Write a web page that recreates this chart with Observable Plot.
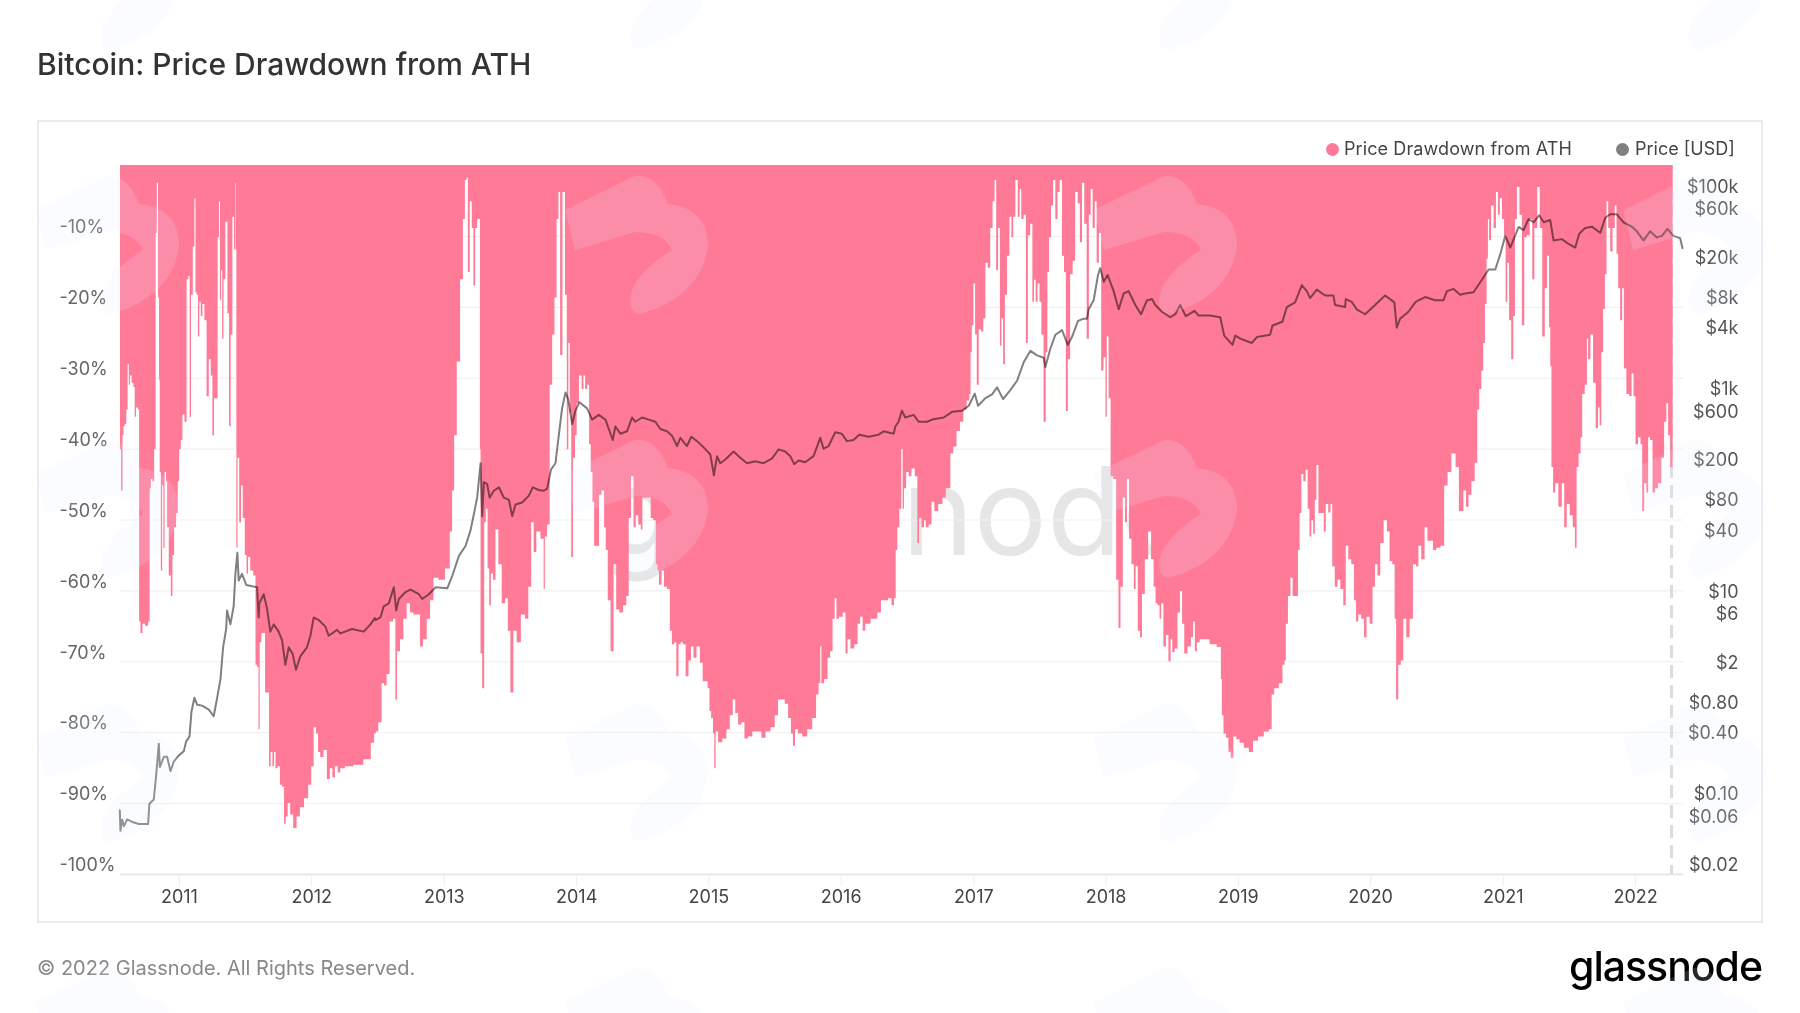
<!DOCTYPE html>
<html><head><meta charset="utf-8">
<script src="https://cdn.jsdelivr.net/npm/d3@7"></script>
<script src="https://cdn.jsdelivr.net/npm/@observablehq/plot@0.6"></script>
<style>
html,body{margin:0;padding:0;background:#fff;width:1800px;height:1013px;overflow:hidden;font-family:Inter,sans-serif}
.abs{position:absolute;white-space:nowrap}
#frame{left:37px;top:120px;width:1722px;height:799px;border:2px solid #ebebeb}
#title{left:37px;top:46px;font-size:30px;line-height:36px;color:#333;font-weight:500}
#foot{left:37px;top:955px;font-size:20px;line-height:26px;color:#888}
#logo{left:1569px;top:941px;font-size:41px;line-height:50px;font-weight:500;color:#000;letter-spacing:-1px}
#bigmark{left:600px;top:436px;font-size:122px;line-height:150px;color:#e6e6e6}
.leg{font-size:18px;line-height:24px;color:#444;top:137px}
.dot{width:13px;height:13px;border-radius:50%;top:143px}
#chart{position:absolute;left:0;top:0}
#mark{position:absolute;left:0;top:0;pointer-events:none}
</style></head><body>
<div class="abs" id="bigmark">glassnode</div>
<div class="abs" id="frame"></div>
<div id="chart"></div>
<div class="abs" id="title">Bitcoin: Price Drawdown from ATH</div>
<div class="abs dot" style="left:1326px;background:#ff7a96"></div>
<div class="abs leg" style="left:1344px;letter-spacing:.1px">Price Drawdown from ATH</div>
<div class="abs dot" style="left:1616px;background:#808080"></div>
<div class="abs leg" style="left:1635px">Price [USD]</div>
<div class="abs" id="foot">© 2022 Glassnode. All Rights Reserved.</div>
<div class="abs" id="logo">glassnode</div>
<svg id="mark" width="1800" height="1013"><defs>
<pattern id="tile" patternUnits="userSpaceOnUse" x="36" y="172" width="529" height="264">
<path d="M0,38 L70,4 Q92,2 103,32 Q143,36 143,75 Q135,125 75,142 Q62,140 66,122 Q72,100 107,78 Q100,60 70,60 L10,78 Z" fill="rgb(232,238,250)" fill-opacity=".17"/>
</pattern></defs><rect width="1800" height="1013" fill="url(#tile)"/></svg>
<script>
const pctTicks = [-10,-20,-30,-40,-50,-60,-70,-80,-90,-100];
const yearTicks = [2011,2012,2013,2014,2015,2016,2017,2018,2019,2020,2021,2022];
const priceTicks = [100000,60000,20000,8000,4000,1000,600,200,80,40,10,6,2,0.8,0.4,0.1,0.06,0.02];
const priceLabels = ["$100k","$60k","$20k","$8k","$4k","$1k","$600","$200","$80","$40","$10","$6","$2","$0.80","$0.40","$0.10","$0.06","$0.02"];
const xDomainYears = [2010.5544,2022.3625];
const priceDomain = [0.02,200000];
const lastDayMark = [2022.272];

// [decimal year, drawdown from ATH %]
const drawdown2010 = [[2010.554,-40.1],[2010.570,-45.9],[2010.577,-38.1],[2010.585,-36.8],[2010.597,-36.5],[2010.607,-34.5],[2010.617,-28.1],[2010.625,-31.0],[2010.635,-29.7],[2010.648,-30.7],[2010.663,-31.3],[2010.668,-35.5],[2010.683,-34.2],[2010.698,-34.5],[2010.700,-64.4],[2010.718,-66.0],[2010.731,-64.7],[2010.758,-65.0],[2010.776,-64.4],[2010.781,-45.6],[2010.794,-44.3],[2010.806,-44.6],[2010.819,-40.1],[2010.829,-9.6],[2010.836,-2.5],[2010.847,-18.7],[2010.852,-30.3],[2010.857,-43.3],[2010.869,-57.2],[2010.877,-45.2],[2010.887,-54.0],[2010.897,-43.3],[2010.907,-44.6],[2010.914,-51.1],[2010.932,-57.9],[2010.945,-60.8],[2010.957,-55.0],[2010.970,-51.1],[2010.987,-49.1],[2010.995,-44.6]];
const drawdown2011 = [[2011.008,-40.1],[2011.020,-38.8],[2011.033,-35.2],[2011.050,-36.2],[2011.066,-16.1],[2011.076,-15.7],[2011.086,-35.5],[2011.096,-18.3],[2011.113,-11.5],[2011.121,-4.7],[2011.129,-18.0],[2011.139,-18.3],[2011.149,-24.2],[2011.159,-19.3],[2011.171,-21.3],[2011.184,-19.6],[2011.201,-21.9],[2011.217,-32.6],[2011.234,-27.4],[2011.247,-29.7],[2011.259,-38.1],[2011.272,-32.9],[2011.285,-32.9],[2011.300,-10.2],[2011.305,-5.1],[2011.315,-19.0],[2011.322,-14.8],[2011.332,-24.5],[2011.342,-16.1],[2011.360,-8.0],[2011.373,-20.9],[2011.385,-36.8],[2011.398,-23.9],[2011.410,-7.3],[2011.423,-11.9],[2011.426,-2.5],[2011.430,-12],[2011.438,-54.0],[2011.448,-41.3],[2011.463,-50.4],[2011.476,-45.2],[2011.489,-49.8],[2011.506,-55.0],[2011.516,-57.6],[2011.529,-55.3],[2011.549,-57.2],[2011.574,-57.9],[2011.584,-70.5],[2011.599,-70.8],[2011.604,-79.6],[2011.617,-67.3],[2011.630,-66.0],[2011.647,-66.0],[2011.655,-74.4],[2011.675,-74.4],[2011.687,-84.8],[2011.700,-82.8],[2011.713,-84.8],[2011.725,-82.8],[2011.735,-85.1],[2011.755,-84.8],[2011.771,-87.4],[2011.788,-87.7],[2011.801,-92.9],[2011.813,-91.9],[2011.831,-90.0],[2011.851,-91.6],[2011.876,-93.5],[2011.902,-91.9],[2011.927,-90.6],[2011.964,-89.3],[2011.990,-87.4]];
const drawdown2012 = [[2012.010,-84.8],[2012.027,-79.3],[2012.045,-80.2],[2012.058,-82.8],[2012.078,-83.5],[2012.108,-82.5],[2012.128,-86.6],[2012.153,-85.1],[2012.166,-86.4],[2012.191,-84.8],[2012.209,-85.7],[2012.229,-85.1],[2012.279,-84.8],[2012.355,-84.6],[2012.430,-83.8],[2012.468,-81.5],[2012.480,-80.2],[2012.493,-79.9],[2012.518,-78.6],[2012.543,-73.1],[2012.556,-73.4],[2012.581,-71.8],[2012.601,-64.4],[2012.632,-64.0],[2012.637,-75.4],[2012.657,-68.6],[2012.682,-66.9],[2012.707,-64.0],[2012.732,-61.8],[2012.757,-63.1],[2012.783,-63.4],[2012.815,-63.4],[2012.825,-67.9],[2012.858,-66.9],[2012.883,-64.0],[2012.909,-61.4],[2012.934,-58.2],[2012.984,-58.5]];
const drawdown2013 = [[2013.034,-56.9],[2013.055,-51.7],[2013.070,-45.9],[2013.085,-38.1],[2013.110,-27.7],[2013.135,-16.1],[2013.153,-7.6],[2013.165,-2.1],[2013.178,-1.8],[2013.185,-15.1],[2013.206,-5.1],[2013.216,-8.9],[2013.231,-17.0],[2013.243,-8.9],[2013.261,-7.6],[2013.271,-7.6],[2013.274,-40.1],[2013.281,-68.9],[2013.299,-73.8],[2013.311,-50.4],[2013.324,-48.5],[2013.337,-56.9],[2013.349,-62.1],[2013.362,-57.6],[2013.382,-58.5],[2013.399,-51.4],[2013.425,-56.3],[2013.450,-61.8],[2013.475,-61.1],[2013.493,-65.7],[2013.513,-74.4],[2013.538,-65.7],[2013.563,-67.3],[2013.601,-63.4],[2013.626,-64.0],[2013.651,-59.5],[2013.669,-50.4],[2013.689,-54.6],[2013.709,-51.7],[2013.752,-52.7],[2013.757,-59.8],[2013.770,-52.4],[2013.790,-50.7],[2013.810,-31.0],[2013.828,-23.9],[2013.845,-18.7],[2013.860,-7.6],[2013.873,-3.8],[2013.885,-26.8],[2013.908,-3.8],[2013.923,-18.3],[2013.936,-40.1],[2013.946,-25.1],[2013.958,-34.9],[2013.968,-55.3],[2013.984,-41.3],[2013.999,-38.1]];
const drawdown2014 = [[2014.009,-33.6],[2014.034,-29.7],[2014.049,-31.6],[2014.062,-29.7],[2014.074,-31.6],[2014.092,-31.0],[2014.104,-39.4],[2014.117,-43.3],[2014.130,-47.5],[2014.142,-53.7],[2014.167,-53.7],[2014.180,-46.5],[2014.205,-45.9],[2014.218,-51.1],[2014.230,-54.3],[2014.248,-61.4],[2014.273,-68.6],[2014.293,-56.3],[2014.313,-62.7],[2014.339,-63.1],[2014.369,-62.1],[2014.389,-60.8],[2014.406,-49.8],[2014.424,-43.9],[2014.444,-51.1],[2014.457,-49.4],[2014.482,-50.7],[2014.495,-51.4],[2014.507,-46.9],[2014.557,-46.9],[2014.570,-49.8],[2014.595,-50.1],[2014.610,-56.3],[2014.620,-57.2],[2014.633,-59.2],[2014.658,-57.2],[2014.671,-59.5],[2014.703,-59.8],[2014.714,-65.7],[2014.734,-67.6],[2014.751,-67.3],[2014.764,-72.1],[2014.784,-67.6],[2014.797,-67.3],[2014.817,-67.6],[2014.839,-72.1],[2014.860,-69.9],[2014.877,-67.9],[2014.897,-69.5],[2014.923,-67.9],[2014.948,-70.2],[2014.965,-72.8],[2014.985,-72.8]];
const drawdown2015 = [[2015.003,-73.8],[2015.013,-77.0],[2015.028,-78.0],[2015.041,-80.2],[2015.048,-85.1],[2015.061,-79.9],[2015.086,-81.4],[2015.124,-80.9],[2015.149,-79.6],[2015.174,-77.6],[2015.194,-75.4],[2015.212,-77.3],[2015.237,-78.9],[2015.262,-78.6],[2015.283,-80.9],[2015.313,-80.6],[2015.351,-79.9],[2015.388,-79.9],[2015.413,-80.8],[2015.451,-79.9],[2015.489,-79.3],[2015.514,-77.6],[2015.539,-75.4],[2015.565,-75.4],[2015.590,-76.0],[2015.615,-78.0],[2015.633,-80.2],[2015.645,-81.9],[2015.665,-79.6],[2015.690,-80.2],[2015.728,-80.6],[2015.766,-79.6],[2015.804,-78.0],[2015.824,-74.7],[2015.842,-73.1],[2015.849,-67.9],[2015.859,-73.1],[2015.892,-72.5],[2015.910,-69.5],[2015.930,-68.6],[2015.947,-64.0],[2015.962,-61.1],[2015.975,-64.0]];
const drawdown2016 = [[2016.000,-63.7],[2016.030,-63.1],[2016.043,-68.9],[2016.061,-66.9],[2016.086,-68.2],[2016.119,-67.6],[2016.136,-64.7],[2016.156,-63.7],[2016.176,-65.7],[2016.194,-64.7],[2016.257,-64.0],[2016.295,-63.1],[2016.312,-61.4],[2016.345,-61.4],[2016.370,-61.1],[2016.396,-62.1],[2016.408,-61.1],[2016.421,-54.3],[2016.433,-51.1],[2016.451,-48.5],[2016.463,-40.1],[2016.471,-48.5],[2016.483,-45.6],[2016.504,-43.3],[2016.521,-43.9],[2016.546,-42.8],[2016.572,-43.9],[2016.584,-53.3],[2016.597,-49.8],[2016.622,-51.1],[2016.635,-50.1],[2016.647,-51.1],[2016.680,-50.7],[2016.690,-47.5],[2016.723,-48.8],[2016.748,-47.8],[2016.786,-46.9],[2016.798,-45.6],[2016.818,-45.6],[2016.836,-40.7],[2016.861,-39.7],[2016.886,-37.5],[2016.912,-36.2],[2016.937,-34.5],[2016.962,-33.2],[2016.977,-32.3],[2016.982,-26.4],[2016.995,-22.6]];
const drawdown2017 = [[2017.007,-16.7],[2017.020,-23.9],[2017.032,-31.0],[2017.050,-23.2],[2017.068,-23.5],[2017.083,-21.6],[2017.100,-13.8],[2017.118,-14.5],[2017.138,-8.9],[2017.153,-5.1],[2017.168,-2.1],[2017.178,-14.8],[2017.196,-8.9],[2017.206,-25.5],[2017.219,-21.6],[2017.231,-28.1],[2017.246,-18.3],[2017.264,-12.8],[2017.282,-7.3],[2017.294,-10.2],[2017.309,-7.3],[2017.327,-2.1],[2017.345,-7.3],[2017.355,-3.4],[2017.370,-7.6],[2017.390,-7.0],[2017.405,-25.1],[2017.420,-9.9],[2017.440,-8.3],[2017.453,-19.3],[2017.465,-16.2],[2017.478,-19.3],[2017.493,-16.7],[2017.508,-19.3],[2017.521,-23.9],[2017.541,-36.2],[2017.554,-26.4],[2017.566,-15.1],[2017.579,-10.2],[2017.596,-5.7],[2017.611,-2.1],[2017.629,-7.6],[2017.644,-3.8],[2017.662,-2.1],[2017.679,-12.8],[2017.692,-15.1],[2017.707,-34.7],[2017.722,-27.4],[2017.742,-15.4],[2017.760,-13.5],[2017.780,-3.8],[2017.798,-5.4],[2017.813,-10.9],[2017.830,-2.5],[2017.848,-8.3],[2017.866,-24.5],[2017.881,-7.0],[2017.893,-3.4],[2017.911,-8.9],[2017.926,-5.1],[2017.939,-13.8],[2017.959,-9.6],[2017.974,-29.0],[2017.994,-27.1]];
const drawdown2018 = [[2018.004,-35.5],[2018.014,-24.2],[2018.032,-32.9],[2018.044,-43.9],[2018.070,-44.3],[2018.090,-58.5],[2018.105,-65.3],[2018.120,-59.5],[2018.140,-46.9],[2018.153,-50.4],[2018.170,-44.3],[2018.185,-52.7],[2018.206,-56.3],[2018.221,-59.8],[2018.233,-56.6],[2018.253,-65.7],[2018.266,-66.6],[2018.284,-60.5],[2018.309,-55.6],[2018.334,-51.7],[2018.354,-55.6],[2018.372,-59.5],[2018.384,-61.8],[2018.402,-62.1],[2018.414,-64.0],[2018.427,-61.8],[2018.447,-67.9],[2018.465,-66.3],[2018.485,-70.0],[2018.498,-66.9],[2018.510,-68.7],[2018.535,-68.2],[2018.553,-63.1],[2018.571,-60.1],[2018.586,-64.7],[2018.603,-68.9],[2018.636,-67.9],[2018.654,-66.6],[2018.669,-64.4],[2018.681,-68.6],[2018.699,-67.3],[2018.724,-66.9],[2018.762,-66.9],[2018.812,-67.6],[2018.868,-68.0],[2018.875,-72.5],[2018.883,-77.6],[2018.900,-80.2],[2018.921,-80.8],[2018.936,-82.8],[2018.956,-83.6],[2018.976,-80.6]];
const drawdown2019 = [[2019.001,-81.0],[2019.026,-81.5],[2019.064,-82.2],[2019.102,-82.8],[2019.127,-81.2],[2019.177,-80.6],[2019.215,-79.9],[2019.253,-79.6],[2019.258,-74.7],[2019.291,-73.8],[2019.328,-73.1],[2019.346,-70.5],[2019.359,-69.9],[2019.366,-64.7],[2019.391,-60.8],[2019.404,-58.2],[2019.424,-60.8],[2019.449,-60.8],[2019.459,-54.3],[2019.475,-49.1],[2019.485,-43.6],[2019.505,-44.6],[2019.520,-43.0],[2019.535,-48.5],[2019.548,-52.4],[2019.563,-50.1],[2019.575,-52.0],[2019.588,-47.2],[2019.600,-42.3],[2019.618,-49.1],[2019.643,-49.1],[2019.656,-51.7],[2019.673,-47.8],[2019.694,-49.0],[2019.706,-47.8],[2019.721,-56.6],[2019.744,-59.5],[2019.762,-58.5],[2019.787,-59.8],[2019.807,-62.1],[2019.824,-53.7],[2019.845,-55.6],[2019.870,-56.3],[2019.887,-61.4],[2019.900,-64.4],[2019.920,-63.4],[2019.945,-64.0],[2019.963,-66.6],[2019.983,-63.7]];
const drawdown2020 = [[2020.008,-64.7],[2020.028,-59.5],[2020.046,-56.3],[2020.064,-57.9],[2020.089,-53.3],[2020.114,-50.1],[2020.139,-51.7],[2020.154,-55.9],[2020.179,-56.3],[2020.190,-64.0],[2020.202,-75.4],[2020.222,-70.5],[2020.240,-69.9],[2020.260,-64.0],[2020.285,-66.6],[2020.310,-64.0],[2020.335,-56.3],[2020.355,-56.6],[2020.373,-53.7],[2020.398,-55.6],[2020.423,-51.1],[2020.441,-53.0],[2020.461,-53.0],[2020.486,-54.3],[2020.512,-54.0],[2020.549,-53.7],[2020.567,-45.2],[2020.600,-43.3],[2020.625,-40.7],[2020.663,-42.6],[2020.675,-48.8],[2020.693,-48.8],[2020.713,-45.9],[2020.733,-48.2],[2020.751,-46.5],[2020.776,-44.6],[2020.801,-42.0],[2020.814,-34.5],[2020.831,-31.6],[2020.846,-29.0],[2020.859,-25.1],[2020.872,-19.6],[2020.884,-13.2],[2020.892,-7.6],[2020.902,-10.6],[2020.922,-5.7],[2020.940,-8.9],[2020.957,-3.8],[2020.970,-7.0],[2020.985,-4.7]];
const drawdown2021 = [[2021.003,-7.6],[2021.015,-9.9],[2021.028,-19.3],[2021.040,-13.8],[2021.055,-21.9],[2021.073,-27.4],[2021.086,-21.3],[2021.098,-7.6],[2021.116,-3.1],[2021.136,-7.0],[2021.154,-22.6],[2021.171,-10.2],[2021.191,-9.9],[2021.217,-7.6],[2021.229,-16.1],[2021.249,-8.9],[2021.272,-3.1],[2021.287,-8.9],[2021.310,-24.2],[2021.325,-17.4],[2021.345,-12.8],[2021.355,-22.9],[2021.363,-28.4],[2021.373,-42.6],[2021.388,-46.2],[2021.405,-44.9],[2021.436,-48.2],[2021.456,-44.9],[2021.473,-51.1],[2021.494,-47.8],[2021.519,-49.4],[2021.539,-51.1],[2021.552,-54.0],[2021.564,-42.6],[2021.582,-40.7],[2021.594,-38.4],[2021.607,-32.3],[2021.632,-31.0],[2021.640,-24.5],[2021.650,-27.4],[2021.675,-23.9],[2021.690,-30.7],[2021.715,-37.1],[2021.725,-34.2],[2021.740,-36.7],[2021.750,-26.4],[2021.766,-20.3],[2021.778,-15.4],[2021.791,-5.1],[2021.803,-8.9],[2021.821,-12.2],[2021.839,-8.9],[2021.854,-5.7],[2021.866,-12.5],[2021.879,-17.4],[2021.896,-21.9],[2021.909,-17.4],[2021.922,-28.7],[2021.947,-32.3],[2021.967,-32.6],[2021.980,-29.4],[2021.997,-32.6]];
const drawdown2022 = [[2022.010,-39.4],[2022.035,-38.4],[2022.048,-39.4],[2022.060,-48.8],[2022.078,-44.9],[2022.093,-46.2],[2022.105,-38.4],[2022.123,-38.8],[2022.141,-46.2],[2022.161,-45.6],[2022.186,-44.9],[2022.211,-41.3],[2022.229,-36.2],[2022.244,-33.6],[2022.256,-38.1],[2022.274,-42.6],[2022.284,-42.6]];

// [decimal year, price in USD]
const priceEarly = [[2010.549,0.086],[2010.554,0.054],[2010.567,0.07],[2010.580,0.06],[2010.605,0.07],[2010.643,0.066],[2010.693,0.063],[2010.763,0.063],[2010.773,0.10],[2010.806,0.11],[2010.824,0.19],[2010.844,0.39],[2010.852,0.23],[2010.882,0.29],[2010.907,0.29],[2010.932,0.21],[2010.957,0.26],[2010.995,0.30],[2011.033,0.33],[2011.050,0.41],[2011.076,0.46],[2011.091,0.81],[2011.113,1.11],[2011.134,0.95],[2011.171,0.93],[2011.222,0.85],[2011.259,0.73],[2011.285,1.11],[2011.310,1.69],[2011.330,3.5],[2011.353,5.3],[2011.360,8.1],[2011.385,5.9],[2011.410,8.9],[2011.423,18.6],[2011.438,30],[2011.448,16],[2011.473,18.6],[2011.506,14.4],[2011.549,14],[2011.587,13.7],[2011.599,6.9],[2011.604,9.5],[2011.637,11.7],[2011.662,8.5],[2011.687,5.0],[2011.713,5.9],[2011.750,5.0],[2011.776,4.1],[2011.801,2.35],[2011.826,3.5],[2011.856,3.0],[2011.881,2.1],[2011.914,2.85],[2011.964,3.5],[2011.990,4.55]];
const priceMid12 = [[2012.015,6.9],[2012.053,6.5],[2012.103,5.6],[2012.128,4.55],[2012.191,5.2],[2012.216,4.8],[2012.304,5.3],[2012.392,5.0],[2012.443,5.9],[2012.476,6.8],[2012.480,6.5],[2012.518,6.9],[2012.543,8.9],[2012.581,9.5],[2012.619,13.7],[2012.637,8.1],[2012.657,10.5],[2012.707,12.3],[2012.745,13],[2012.808,11.7],[2012.833,10.5],[2012.883,11.7],[2012.934,13.7],[2013.022,13.4],[2013.060,17.8],[2013.110,28],[2013.160,35],[2013.198,50],[2013.223,72],[2013.248,105],[2013.274,230],[2013.286,69],[2013.299,150],[2013.324,143],[2013.342,105],[2013.374,123],[2013.412,133],[2013.450,105],[2013.488,100],[2013.513,69],[2013.538,90],[2013.588,94],[2013.639,110],[2013.669,133],[2013.714,125],[2013.752,123],[2013.777,129],[2013.807,200],[2013.840,230],[2013.865,430],[2013.890,800],[2013.916,1150],[2013.936,990],[2013.966,560],[2013.991,760]];
const price2014 = [[2014.021,920],[2014.079,800],[2014.117,620],[2014.167,690],[2014.218,620],[2014.273,390],[2014.293,530],[2014.331,450],[2014.381,475],[2014.419,650],[2014.444,590],[2014.495,650],[2014.545,620],[2014.595,590],[2014.633,500],[2014.683,475],[2014.721,430],[2014.759,340],[2014.784,410],[2014.834,340],[2014.867,420],[2014.910,380],[2014.960,330],[2015.011,280],[2015.038,175],[2015.061,270],[2015.086,230],[2015.124,250],[2015.187,300],[2015.237,260],[2015.288,230],[2015.351,240],[2015.413,230],[2015.476,255],[2015.527,315],[2015.577,300],[2015.615,270],[2015.645,225],[2015.678,245],[2015.728,235],[2015.791,270],[2015.842,410],[2015.867,320],[2015.905,340],[2015.955,465]];
const price2016 = [[2016.005,450],[2016.043,380],[2016.093,390],[2016.136,440],[2016.207,420],[2016.282,440],[2016.320,475],[2016.396,450],[2016.408,530],[2016.433,590],[2016.458,760],[2016.483,650],[2016.546,690],[2016.584,590],[2016.647,590],[2016.685,620],[2016.773,650],[2016.836,740],[2016.912,760],[2016.962,850],[2017.007,1120],[2017.032,850],[2017.088,1010],[2017.138,1100],[2017.176,1290],[2017.221,990],[2017.277,1220],[2017.327,1500],[2017.377,2280],[2017.428,2960],[2017.478,2670],[2017.528,2530],[2017.541,2050],[2017.579,3120],[2017.617,4270],[2017.667,4740],[2017.710,3390],[2017.742,4050],[2017.788,5840],[2017.831,6150],[2017.856,6150],[2017.868,7600],[2017.906,9350],[2017.939,16600],[2017.956,19400],[2017.982,14200]];
const price2018 = [[2018.012,16600],[2018.057,11500],[2018.095,7600],[2018.133,10900],[2018.170,11500],[2018.221,8400],[2018.264,6800],[2018.309,9300],[2018.347,9600],[2018.372,8400],[2018.422,7200],[2018.485,6350],[2018.523,6800],[2018.560,8400],[2018.603,6500],[2018.669,7350],[2018.699,6600],[2018.787,6600],[2018.863,6350],[2018.893,4180],[2018.956,3390],[2018.976,4180],[2019.026,3850],[2019.102,3540],[2019.140,4050],[2019.240,4270],[2019.258,5270],[2019.333,5730],[2019.366,8000],[2019.429,8900],[2019.480,13200],[2019.517,11500],[2019.542,9800],[2019.593,11900],[2019.656,10400],[2019.719,10400],[2019.731,8400],[2019.807,8000],[2019.812,9600],[2019.857,9000],[2019.895,7600],[2019.958,6800]];
const price2020 = [[2020.033,8400],[2020.109,10400],[2020.179,8900],[2020.197,5000],[2020.222,6150],[2020.285,7200],[2020.336,8900],[2020.361,9350],[2020.411,10050],[2020.486,9350],[2020.549,9350],[2020.575,11500],[2020.625,12100],[2020.675,10600],[2020.713,10900],[2020.776,11200],[2020.839,14900],[2020.889,18800],[2020.940,18800],[2020.977,26500],[2021.015,40400],[2021.053,31000],[2021.116,49500],[2021.154,46000],[2021.191,59300],[2021.229,55000],[2021.272,64600],[2021.305,55000],[2021.355,58000],[2021.380,36400],[2021.443,37500],[2021.481,34500],[2021.544,31000],[2021.574,42400],[2021.619,48300],[2021.670,49800],[2021.733,43300],[2021.771,61000],[2021.808,66000],[2021.859,66000],[2021.909,55000],[2021.972,49800],[2022.010,44800],[2022.060,36400],[2022.110,44800],[2022.161,39000],[2022.199,40400],[2022.241,47300],[2022.287,40400],[2022.337,38300],[2022.355,30500]];

const toDate = y => { const Y = Math.floor(y), a = Date.UTC(Y,0,1), b = Date.UTC(Y+1,0,1); return new Date(a + (y-Y)*(b-a)); };
const priceToAxis = d3.scaleLog().domain(priceDomain).range([-100,0]);
const drawdownPoints = [].concat(drawdown2010,drawdown2011,drawdown2012,drawdown2013,drawdown2014,drawdown2015,drawdown2016,drawdown2017,drawdown2018,drawdown2019,drawdown2020,drawdown2021,drawdown2022).map(([y,v])=>({t:toDate(y),v}));
const pricePoints = [].concat(priceEarly,priceMid12,price2014,price2016,price2018,price2020).map(([y,p])=>({t:toDate(y),p:priceToAxis(p)}));
const yearDates = yearTicks.map(y=>new Date(Date.UTC(y,0,1)));

const chart = Plot.plot({
  width:1800,height:1013,marginLeft:120,marginRight:117,marginTop:165,marginBottom:139,
  style:{background:"transparent",fontFamily:"Inter, sans-serif",overflow:"visible"},
  x:{type:"utc",domain:xDomainYears.map(toDate)},
  y:{domain:[-100,0]},
  marks:[
    Plot.ruleY(pctTicks.slice(0,-1),{stroke:"#f1f1f1",strokeWidth:1.2}),
    Plot.ruleY([-100],{stroke:"#e8e8e8",strokeWidth:2}),
    Plot.ruleX(lastDayMark.map(toDate),{stroke:"#dcdcdc",strokeWidth:3,strokeDasharray:"13 7"}),
    Plot.areaY(drawdownPoints,{x:"t",y1:()=>0,y2:"v",fill:"#ff7a96",curve:"step"}),
    Plot.line(pricePoints,{x:"t",y:"p",stroke:"#808080",strokeWidth:2,mixBlendMode:"multiply",curve:"linear"}),
    Plot.axisX(yearDates,{anchor:"bottom",tickSize:12,stroke:"#eeeeee",fill:"none"}),
    Plot.axisX(yearDates,{anchor:"bottom",tickSize:0,tickPadding:16,fill:"#444",fontSize:18,fontVariant:"normal",tickFormat:d3.utcFormat("%Y"),label:null}),
    Plot.axisY(pctTicks,{anchor:"left",tickSize:0,tickPadding:61,textAnchor:"start",dy:-9,fill:"#666",fontSize:18,fontVariant:"normal",tickFormat:d=>d+"%",label:null}),
    Plot.axisY(priceTicks.map(p=>priceToAxis(p)),{anchor:"right",tickSize:0,tickPadding:55,textAnchor:"end",dy:-9,fill:"#555",fontSize:18,fontVariant:"normal",tickFormat:(d,i)=>priceLabels[i],label:null})
  ]
});
document.getElementById("chart").appendChild(chart);
</script>
</body></html>
